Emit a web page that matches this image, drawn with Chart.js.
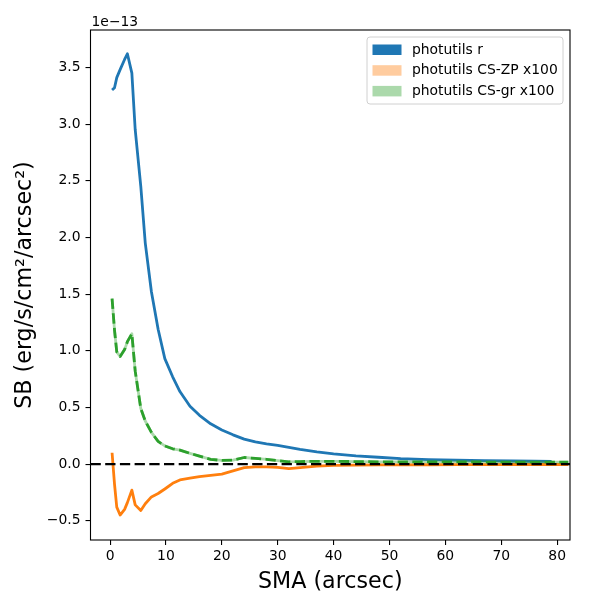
<!DOCTYPE html>
<html>
<head>
<meta charset="utf-8">
<title>SB profile</title>
<script src="https://cdn.jsdelivr.net/npm/chart.js@4.4.1/dist/chart.umd.min.js"></script>
<style>
  html, body { margin: 0; padding: 0; background: #fff; }
  #wrap { width: 600px; height: 600px; }
</style>
</head>
<body>
<div id="wrap"><canvas id="sbChart" width="600" height="600"></canvas></div>
<script>
// semi-major axis (arcsec)
const sma = [0.36, 0.8, 1.2, 1.8, 2.6, 3.1, 3.9, 4.5, 5.5, 6.3, 7.4, 8.6, 9.8, 11.2, 12.5, 14.3,
  16, 18, 20, 22, 24, 26, 28, 30, 32, 34, 37, 40, 44, 48, 52, 57, 62, 67, 72, 76, 79, 82];

// surface brightness, in units of 1e-13 erg/s/cm2/arcsec2
const sbR = [3.30, 3.32, 3.41, 3.48, 3.57, 3.62, 3.45, 2.95, 2.45, 1.95, 1.52, 1.19, 0.93, 0.77, 0.64, 0.51,
  0.43, 0.355, 0.30, 0.258, 0.22, 0.195, 0.178, 0.165, 0.148, 0.13, 0.108, 0.09, 0.072, 0.06, 0.048, 0.039,
  0.034, 0.030, 0.027, 0.025, 0.023, null];
// colour-shifted profiles, already multiplied by 100
const sbZP = [0.10, -0.18, -0.38, -0.45, -0.40, -0.34, -0.23, -0.36, -0.41, -0.35, -0.29, -0.26, -0.22, -0.17, -0.14, -0.125,
  -0.11, -0.10, -0.088, -0.06, -0.032, -0.024, -0.024, -0.03, -0.04, -0.032, -0.018, -0.012, -0.01, -0.008, -0.007, -0.006,
  -0.005, -0.005, -0.004, -0.004, -0.004, -0.004];
const sbGR = [1.46, 1.18, 0.99, 0.95, 1.01, 1.08, 1.15, 0.82, 0.49, 0.38, 0.28, 0.20, 0.16, 0.135, 0.123, 0.095,
  0.07, 0.042, 0.032, 0.035, 0.058, 0.05, 0.042, 0.03, 0.02, 0.022, 0.024, 0.024, 0.022, 0.02, 0.02, 0.019,
  0.019, 0.018, 0.018, 0.018, 0.017, 0.017];

const seriesLabels = ["photutils r", "photutils CS-ZP x100", "photutils CS-gr x100"];
const xTicks = [0, 10, 20, 30, 40, 50, 60, 70, 80];
const yTicks = [-0.5, 0.0, 0.5, 1.0, 1.5, 2.0, 2.5, 3.0, 3.5];
const yOffsetText = "1e\u221213";

const C_BLUE = "#1f77b4";
const C_ORANGE = "#ff7f0e";
const C_GREEN = "#2ca02c";
const BAND = ["#1f77b4", "rgba(255,127,14,0.4)", "rgba(44,160,44,0.4)"];

Chart.defaults.font.family = "'DejaVu Sans', sans-serif";
Chart.defaults.color = "#000";

function toPoints(ys) {
  return sma.map((x, i) => ({ x: x, y: ys[i] })).filter((p) => p.y !== null);
}

// 画框、零线、偏移文字和图例
const extras = {
  id: "extras",
  afterDatasetsDraw(chart) {
    const { ctx, chartArea: a, scales } = chart;
    const y0 = scales.y.getPixelForValue(0);
    ctx.save();
    ctx.beginPath();
    ctx.rect(a.left, a.top, a.right - a.left, a.bottom - a.top);
    ctx.clip();
    ctx.strokeStyle = "#000";
    ctx.lineWidth = 2.2;
    ctx.setLineDash([10.3, 4.4]);
    ctx.beginPath();
    ctx.moveTo(a.left, y0);
    ctx.lineTo(a.right, y0);
    ctx.stroke();
    ctx.restore();
  },
  afterDraw(chart) {
    const { ctx, chartArea: a } = chart;
    ctx.save();
    // axes frame
    ctx.strokeStyle = "#000";
    ctx.lineWidth = 1.1;
    ctx.strokeRect(a.left, a.top, a.right - a.left, a.bottom - a.top);

    // offset text above the y axis
    ctx.fillStyle = "#000";
    ctx.font = "13.9px 'DejaVu Sans'";
    ctx.textAlign = "left";
    ctx.textBaseline = "alphabetic";
    ctx.fillText(yOffsetText, a.left + 1, a.top - 4);

    // legend box in the upper right
    const lx = a.right - 203, ly = a.top + 7, lw = 196, lh = 67;
    ctx.beginPath();
    ctx.roundRect(lx, ly, lw, lh, 3);
    ctx.fillStyle = "rgba(255,255,255,0.8)";
    ctx.fill();
    ctx.strokeStyle = "#d0d0d0";
    ctx.lineWidth = 1;
    ctx.stroke();
    seriesLabels.forEach((label, i) => {
      const rowY = ly + 13 + i * 20.7;
      ctx.fillStyle = BAND[i];
      ctx.fillRect(lx + 5.5, rowY - 5.5, 29, 10.5);
      ctx.fillStyle = "#000";
      ctx.textBaseline = "middle";
      ctx.fillText(label, lx + 45, rowY);
    });
    ctx.restore();
  }
};

const ctx = document.getElementById("sbChart").getContext("2d");
new Chart(ctx, {
  type: "line",
  data: {
    datasets: [
      { label: seriesLabels[0], data: toPoints(sbR), borderColor: C_BLUE, borderWidth: 2.8, order: 3 },
      { label: seriesLabels[1], data: toPoints(sbZP), borderColor: C_ORANGE, borderWidth: 2.8, order: 2 },
      { label: seriesLabels[2] + " band", data: toPoints(sbGR), borderColor: BAND[2], borderWidth: 2.8, order: 1 },
      { label: seriesLabels[2], data: toPoints(sbGR), borderColor: C_GREEN, borderWidth: 2.8,
        borderDash: [10.3, 4.4], order: 0 }
    ]
  },
  options: {
    responsive: false,
    animation: false,
    devicePixelRatio: 1,
    layout: { padding: { left: 0, right: 30, top: 30, bottom: 0 } },
    elements: {
      point: { radius: 0 },
      line: { tension: 0, fill: false, borderCapStyle: "butt", borderJoinStyle: "round" }
    },
    plugins: {
      legend: { display: false },
      tooltip: { enabled: false }
    },
    scales: {
      x: {
        type: "linear",
        min: -3.5,
        max: 82.3,
        afterBuildTicks: (axis) => { axis.ticks = xTicks.map((v) => ({ value: v })); },
        afterFit: (axis) => { axis.height = 60; },
        grid: { display: true, drawOnChartArea: false, drawTicks: true, tickLength: 5, color: "#000", lineWidth: 1.1 },
        border: { display: false },
        ticks: { padding: 3, font: { size: 13.9 }, color: "#000", maxRotation: 0,
          callback: (v) => String(v) },
        title: { display: true, text: "SMA (arcsec)", font: { size: 22.2 }, color: "#000",
          padding: { top: 0, bottom: 4 } }
      },
      y: {
        type: "linear",
        min: -0.67,
        max: 3.83,
        afterBuildTicks: (axis) => { axis.ticks = yTicks.map((v) => ({ value: v })); },
        afterFit: (axis) => { axis.width = 90.5; },
        grid: { display: true, drawOnChartArea: false, drawTicks: true, tickLength: 5, color: "#000", lineWidth: 1.1 },
        border: { display: false },
        ticks: { padding: 5, font: { size: 13.9 }, color: "#000",
          callback: (v) => v.toFixed(1).replace("-", "\u2212") },
        title: { display: true, text: "SB (erg/s/cm\u00b2/arcsec\u00b2)", font: { size: 22.2 }, color: "#000",
          padding: { top: 12, bottom: 0 } }
      }
    }
  },
  plugins: [extras]
});
</script>
</body>
</html>
